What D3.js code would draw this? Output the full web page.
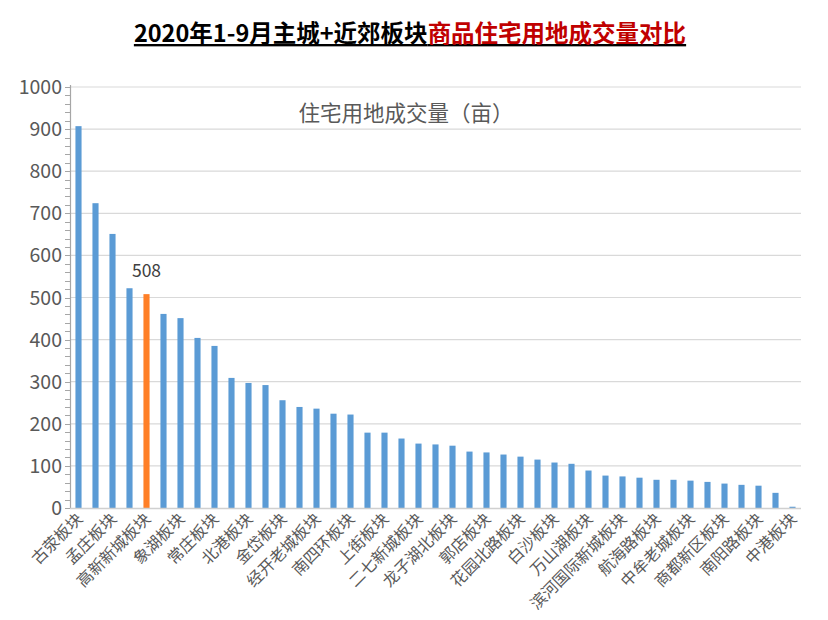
<!DOCTYPE html>
<html><head><meta charset="utf-8">
<script src="https://cdn.jsdelivr.net/npm/d3@7"></script>
<style>
body{margin:0;background:#fff;}
text{font-family:"Noto Sans CJK SC","Microsoft YaHei",sans-serif;}
</style></head>
<body>
<svg id="chart" width="828" height="620"></svg>
<script>
const categories = ["古荥板块","","孟庄板块","","高新新城板块","","象湖板块","","常庄板块","","北港板块","","金岱板块","","经开老城板块","","南四环板块","","上街板块","","二七新城板块","","龙子湖北板块","","郭店板块","","花园北路板块","","白沙板块","","万山湖板块","","滨河国际新城板块","","航海路板块","","中牟老城板块","","商都新区板块","","南阳路板块","","中港板块"];
const values = [907,724,651,522,508,461,451,404,385,309,297,292,256,240,236,224,222,179,179,165,153,151,148,134,132,127,122,115,108,105,89,77,75,72,67,67,65,62,58,55,53,36,3];
const highlightIndex = 4;
const yTicks = [0,100,200,300,400,500,600,700,800,900,1000];
const titleBlack = "2020年1-9月主城+近郊板块";
const titleRed = "商品住宅用地成交量对比";
const seriesName = "住宅用地成交量（亩）";

const svg = d3.select("#chart");
const mLeft = 70, mRight = 801, mTop = 87, mBottom = 508;
const x = d3.scaleBand().domain(d3.range(values.length)).range([mLeft, mRight]).paddingInner(0.64).paddingOuter(0.32);
const y = d3.scaleLinear().domain([0,1000]).range([mBottom, mTop]);

// title
const t = svg.append("text").attr("x", 410).attr("y", 42).attr("text-anchor","middle")
  .attr("font-size", 23.5).attr("font-weight","bold").attr("text-decoration","underline");
t.append("tspan").attr("fill","#000").text(titleBlack);
t.append("tspan").attr("fill","#c00000").text(titleRed);

// gridlines
svg.append("g").selectAll("line").data(yTicks.filter(d=>d>0)).join("line")
  .attr("x1", mLeft).attr("x2", mRight).attr("y1", d=>y(d)).attr("y2", d=>y(d))
  .attr("stroke","#d9d9d9").attr("stroke-width",1.2);

// minor ticks
svg.append("g").selectAll("line").data(d3.range(0,1001,20)).join("line")
  .attr("x1", mLeft-5).attr("x2", mLeft).attr("y1", d=>Math.round(y(d))+0.5).attr("y2", d=>Math.round(y(d))+0.5)
  .attr("stroke","#a6a6a6").attr("stroke-width",1);

// y axis line
svg.append("line").attr("x1",mLeft+0.5).attr("x2",mLeft+0.5).attr("y1",mTop-2).attr("y2",mBottom)
  .attr("stroke","#a6a6a6").attr("stroke-width",1.2);

// y labels
svg.append("g").selectAll("text").data(yTicks).join("text")
  .attr("x", 62).attr("y", d=>y(d)).attr("dy","0.36em").attr("text-anchor","end")
  .attr("font-size",19.5).attr("fill","#595959").text(d=>d);

// bars
svg.append("g").selectAll("rect").data(values).join("rect")
  .attr("x",(d,i)=>x(i)).attr("width",x.bandwidth())
  .attr("y",d=>y(d)).attr("height",d=>y(0)-y(d))
  .attr("fill",(d,i)=>i===highlightIndex?"#ff7f27":"#5b9bd5");

// baseline
svg.append("line").attr("x1",mLeft).attr("x2",mRight).attr("y1",mBottom+0.5).attr("y2",mBottom+0.5)
  .attr("stroke","#d0d0d0").attr("stroke-width",1.5);

// data label
svg.append("text").attr("x", x(highlightIndex)+x.bandwidth()/2).attr("y", y(values[highlightIndex])-17)
  .attr("text-anchor","middle").attr("font-size",17.5).attr("fill","#404040").text(values[highlightIndex]);

// series title
svg.append("text").attr("x",406).attr("y",121).attr("text-anchor","middle")
  .attr("font-size",21.5).attr("fill","#595959").text(seriesName);

// x labels
svg.append("g").selectAll("text").data(categories).join("text")
  .attr("transform",(d,i)=>`translate(${x(i)+x.bandwidth()/2+5},${mBottom+12}) rotate(-45)`)
  .attr("text-anchor","end").attr("font-size",16).attr("fill","#595959").text(d=>d);
</script>
</body></html>
